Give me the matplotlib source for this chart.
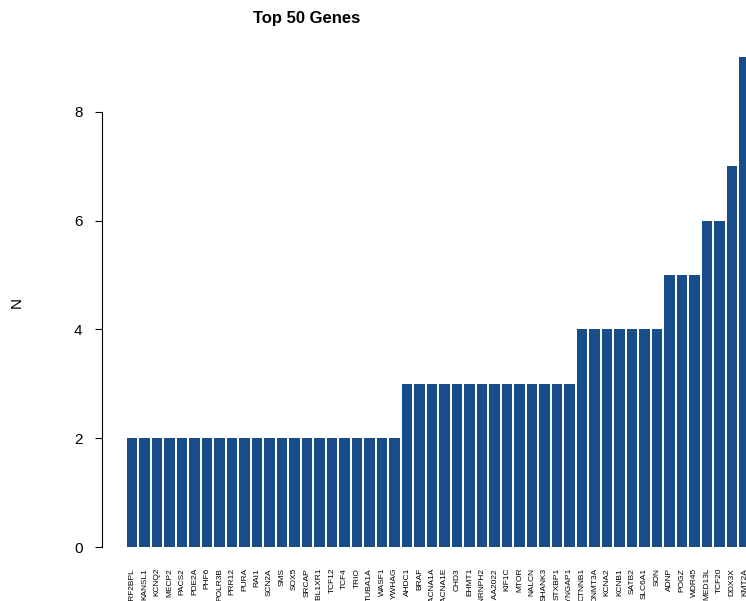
import numpy as np
import matplotlib.pyplot as plt

plt.rcParams['font.family'] = ['Liberation Sans', 'DejaVu Sans']

genes = ['IRF2BPL', 'KANSL1', 'KCNQ2', 'MECP2', 'PACS2', 'PDE2A', 'PHF6', 'POLR3B',
         'PRR12', 'PURA', 'RAI1', 'SCN2A', 'SMS', 'SOX5', 'SRCAP', 'TBL1XR1', 'TCF12',
         'TCF4', 'TRIO', 'TUBA1A', 'WASF1', 'YWHAG',
         'AHDC1', 'BRAF', 'CACNA1A', 'CACNA1E', 'CHD3', 'EHMT1', 'HNRNPH2', 'KIAA2022',
         'KIF1C', 'MTOR', 'NALCN', 'SHANK3', 'STXBP1', 'SYNGAP1',
         'CTNNB1', 'DNMT3A', 'KCNA2', 'KCNB1', 'SATB2', 'SLC6A1', 'SON',
         'ADNP', 'POGZ', 'WDR45', 'MED13L', 'TCF20', 'DDX3X', 'KMT2A']
counts = [2] * 22 + [3] * 14 + [4] * 7 + [5] * 3 + [6, 6, 7, 9]

W, H = 746, 601
fig = plt.figure(figsize=(W / 100, H / 100), dpi=100)

# pixel geometry
x0, step = 132, 12.5
ax_l, ax_b, ax_t = 102, 566.6, 37.8
ax = fig.add_axes([ax_l / W, (H - ax_b) / H, 1 - ax_l / W, (ax_b - ax_t) / H])

x = np.arange(len(genes))
ax.bar(x, counts, width=1 / 1.2, color='#174E8A')
ax.set_xlim((ax_l - x0) / step, (W - x0) / step)
ax.set_ylim(-0.36, 9.36)

for s in ['top', 'right', 'bottom']:
    ax.spines[s].set_visible(False)
ax.spines['left'].set_bounds(0, 8)
ax.spines['left'].set_linewidth(0.8)

ax.set_yticks([0, 2, 4, 6, 8])
ax.tick_params(axis='y', length=5, width=0.8, pad=9, labelsize=11)
ax.set_xticks(x)
ax.set_xticklabels(genes, rotation=90, fontsize=6, va='top')
ax.tick_params(axis='x', length=0, pad=1)

ax.set_ylabel('N', fontsize=11, labelpad=36)
fig.text(307 / W, 1 - 19 / H, 'Top 50 Genes', ha='center', va='center',
         fontsize=12, fontweight='bold')

fig.savefig('out.png', dpi=100)
